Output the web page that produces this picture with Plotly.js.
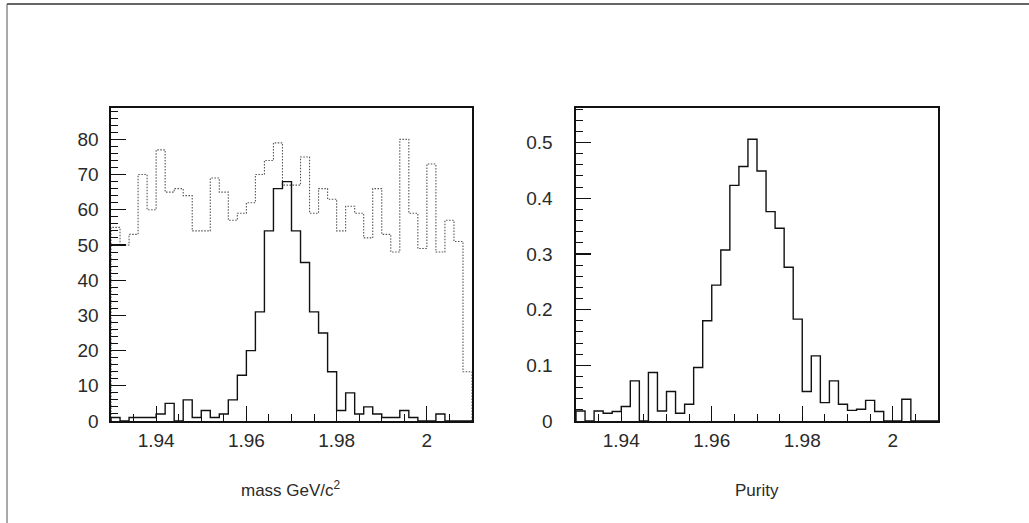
<!DOCTYPE html>
<html>
<head>
<meta charset="utf-8">
<script src="https://cdn.plot.ly/plotly-3.0.1.min.js"></script>
<style>
  html, body { margin: 0; padding: 0; background: #fff; }
  #plot { width: 1029px; height: 523px; }
</style>
</head>
<body>
<div id="plot"></div>
<script>
// Histogram binning: 40 bins of 2 MeV between 1.930 and 2.010 GeV/c^2
const binStart = 1.930;
const binWidth = 0.002;

// Background (side-band) counts per bin, drawn dotted
const backgroundCounts = [
  55, 50, 53, 70, 60, 77, 65, 66, 64, 54,
  54, 69, 65, 57, 59, 62, 70, 74, 79, 67,
  67, 75, 59, 66, 63, 54, 61, 59, 52, 66,
  53, 48, 80, 59, 49, 73, 48, 57, 51, 14
];

// Signal counts per bin, drawn solid
const signalCounts = [
  1, 0, 1, 1, 1, 2, 5, 0, 6, 1,
  3, 1, 2, 6, 13, 20, 31, 54, 66, 68,
  54, 45, 31, 25, 14, 3, 8, 2, 4, 2,
  1, 1, 3, 1, 0, 0, 2, 0, 0, 0
];

// Purity per bin
const purityValues = [
  0.018, 0, 0.018, 0.014, 0.017, 0.026, 0.072, 0, 0.087, 0.018,
  0.053, 0.014, 0.030, 0.096, 0.180, 0.244, 0.307, 0.423, 0.457, 0.506,
  0.449, 0.376, 0.346, 0.276, 0.183, 0.053, 0.117, 0.033, 0.072, 0.030,
  0.019, 0.021, 0.037, 0.017, 0, 0, 0.039, 0, 0, 0
];

const xTickVals = [1.94, 1.96, 1.98, 2.00];

// Build a closed step outline (baseline -> bins -> baseline) for a histogram
function stepOutline(counts) {
  const xs = [binStart];
  const ys = [0];
  for (let i = 0; i < counts.length; i++) {
    xs.push(binStart + i * binWidth);
    ys.push(counts[i]);
  }
  const end = binStart + counts.length * binWidth;
  xs.push(end); ys.push(counts[counts.length - 1]);
  xs.push(end); ys.push(0);
  return { x: xs, y: ys };
}

const bg = stepOutline(backgroundCounts);
const sig = stepOutline(signalCounts);
const pur = stepOutline(purityValues);

const traces = [
  { x: bg.x, y: bg.y, xaxis: 'x', yaxis: 'y', type: 'scatter', mode: 'lines',
    line: { shape: 'hv', color: '#555', width: 1.1, dash: '1.5px,1.5px' }, hoverinfo: 'skip' },
  { x: sig.x, y: sig.y, xaxis: 'x', yaxis: 'y', type: 'scatter', mode: 'lines',
    line: { shape: 'hv', color: '#111', width: 1.4 }, hoverinfo: 'skip' },
  { x: pur.x, y: pur.y, xaxis: 'x2', yaxis: 'y2', type: 'scatter', mode: 'lines',
    line: { shape: 'hv', color: '#111', width: 1.4 }, hoverinfo: 'skip' }
];

const W = 1029, H = 523;
const px = v => v / W;
const py = v => 1 - v / H;

const labelFamily = 'Liberation Sans, Arial, sans-serif';
const tickFont = { family: labelFamily, size: 19, color: '#2a2a2a' };

function xAxis(d0, d1, anchor) {
  return {
    domain: [px(d0), px(d1)], anchor: anchor, range: [1.93, 2.01],
    tickmode: 'array', tickvals: xTickVals,
    ticks: 'inside', ticklen: 15, tickwidth: 1.2, tickcolor: '#111',
    minor: { dtick: 0.005, tick0: 1.93, ticks: 'inside', ticklen: 7, tickwidth: 1, tickcolor: '#111' },
    showline: true, linecolor: '#111', linewidth: 1.6, mirror: true,
    showgrid: false, zeroline: false, tickfont: tickFont, ticklabelstandoff: 2,
    fixedrange: true
  };
}
function yAxis(anchor, range, dtick, minorDtick, standoff) {
  return {
    domain: [py(421), py(108)], anchor: anchor, range: range,
    tick0: 0, dtick: dtick,
    ticks: 'inside', ticklen: 15, tickwidth: 1.2, tickcolor: '#111',
    minor: { dtick: minorDtick, tick0: 0, ticks: 'inside', ticklen: 7, tickwidth: 1, tickcolor: '#111' },
    showline: true, linecolor: '#111', linewidth: 1.6, mirror: true,
    showgrid: false, zeroline: false, tickfont: tickFont, ticklabelstandoff: standoff,
    fixedrange: true
  };
}

const layout = {
  width: W, height: H,
  margin: { l: 0, r: 0, t: 0, b: 0 },
  paper_bgcolor: '#fff', plot_bgcolor: '#fff',
  showlegend: false,
  xaxis: xAxis(111, 472, 'y'),
  yaxis: yAxis('x', [0, 88.9], 10, 2, 7),
  xaxis2: xAxis(576, 938, 'y2'),
  yaxis2: yAxis('x2', [0, 0.562], 0.1, 0.02, 18),
  annotations: [
    { text: 'mass GeV/c<sup>2</sup>', xref: 'paper', yref: 'paper',
      x: px(291), y: py(489), xanchor: 'center', yanchor: 'middle', showarrow: false,
      font: { family: labelFamily, size: 17, color: '#2a2a2a' } },
    { text: 'Purity', xref: 'paper', yref: 'paper',
      x: px(757), y: py(490), xanchor: 'center', yanchor: 'middle', showarrow: false,
      font: { family: labelFamily, size: 17, color: '#2a2a2a' } }
  ],
  shapes: [
    // page border (top and left edges)
    { type: 'line', xref: 'paper', yref: 'paper', x0: px(7), x1: 1, y0: py(4), y1: py(4),
      line: { color: '#333', width: 1.5 } },
    { type: 'line', xref: 'paper', yref: 'paper', x0: px(7), x1: px(7), y0: py(4), y1: 0,
      line: { color: '#555', width: 1 } }
  ]
};

Plotly.newPlot('plot', traces, layout, { displayModeBar: false, staticPlot: true });
</script>
</body>
</html>
